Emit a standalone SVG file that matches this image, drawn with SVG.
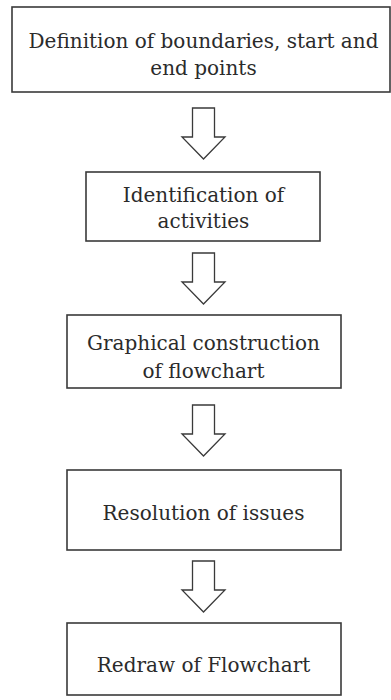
<svg xmlns="http://www.w3.org/2000/svg" width="391" height="700" viewBox="0 0 391 700">
  <style>
    .box { fill: #ffffff; stroke: #3a3a3a; stroke-width: 1.6; }
    .label { font-family: "DejaVu Serif", "Liberation Serif", serif; font-size: 20px; fill: #2b2b2b; text-anchor: middle; }
    .arrow { fill: #ffffff; stroke: #3a3a3a; stroke-width: 1.3; stroke-linejoin: miter; }
  </style>
  <defs>
    <!-- hollow block arrow pointing down, origin at tip -->
    <path id="down" d="M -11 -51 L 11 -51 L 11 -22 L 21.5 -22 L 0 0 L -21.5 -22 L -11 -22 Z"/>
  </defs>
  <rect width="391" height="700" fill="#ffffff"/>

  <g id="connectors">
    <use href="#down" class="arrow" x="203.5" y="159"/>
    <use href="#down" class="arrow" x="203.5" y="304"/>
    <use href="#down" class="arrow" x="203.5" y="456"/>
    <use href="#down" class="arrow" x="203.5" y="612"/>
  </g>

  <g id="boundaries">
    <rect class="box" x="12" y="7" width="378" height="85"/>
    <text class="label" x="203.5" y="48">Definition of boundaries, start and</text>
    <text class="label" x="203.5" y="75">end points</text>
  </g>

  <g id="activities">
    <rect class="box" x="86" y="172" width="234" height="69"/>
    <text class="label" x="203.5" y="202">Identification of</text>
    <text class="label" x="203.5" y="228">activities</text>
  </g>

  <g id="construction">
    <rect class="box" x="67" y="315" width="274" height="73"/>
    <text class="label" x="203.5" y="350">Graphical construction</text>
    <text class="label" x="203.5" y="378">of flowchart</text>
  </g>

  <g id="resolution">
    <rect class="box" x="67" y="470" width="274" height="80"/>
    <text class="label" x="203.5" y="520">Resolution of issues</text>
  </g>

  <g id="redraw">
    <rect class="box" x="67" y="623" width="274" height="72"/>
    <text class="label" x="203.5" y="672">Redraw of Flowchart</text>
  </g>
</svg>
